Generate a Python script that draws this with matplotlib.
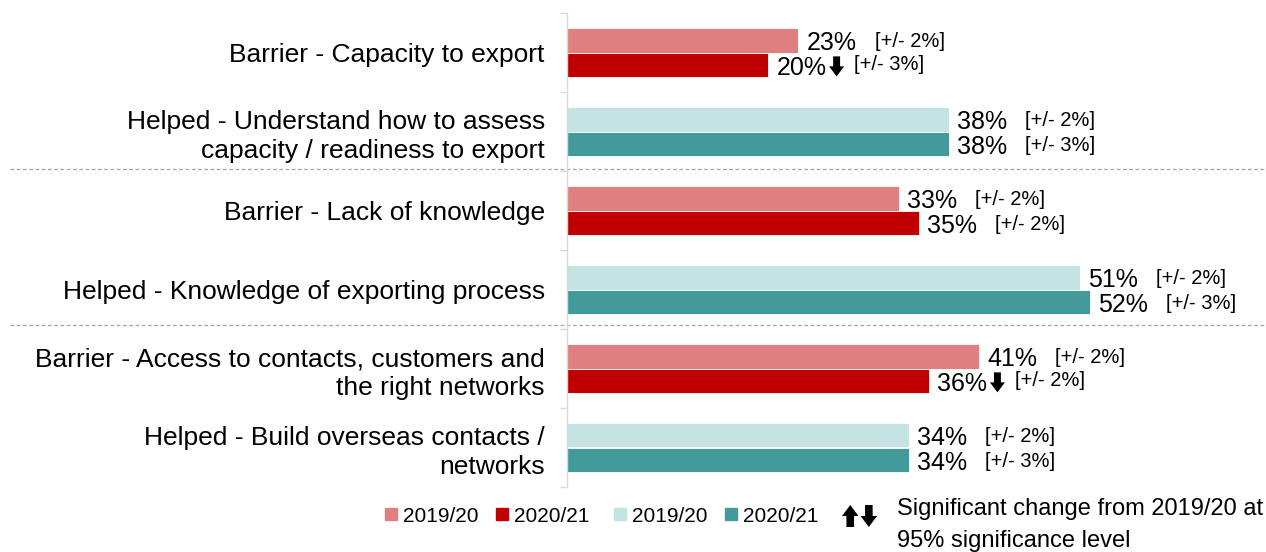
import matplotlib
matplotlib.use("Agg")
import matplotlib.pyplot as plt
import matplotlib.transforms as mtransforms
from matplotlib.lines import Line2D
from matplotlib.patches import Polygon
from matplotlib.offsetbox import DrawingArea, AnnotationBbox, HPacker
import numpy as np

plt.rcParams['font.family'] = ['Liberation Sans', 'DejaVu Sans']

# Survey items (barriers and the support that helped with them)
categories = [
    "Barrier - Capacity to export",
    "Helped - Understand how to assess\ncapacity / readiness to export",
    "Barrier - Lack of knowledge",
    "Helped - Knowledge of exporting process",
    "Barrier - Access to contacts, customers and\nthe right networks",
    "Helped - Build overseas contacts /\nnetworks",
]
kinds = ["Barrier", "Helped", "Barrier", "Helped", "Barrier", "Helped"]
pct_1920 = [23, 38, 33, 51, 41, 34]
pct_2021 = [20, 38, 35, 52, 36, 34]
moe_1920 = [2, 2, 2, 2, 2, 2]
moe_2021 = [3, 3, 2, 3, 2, 3]
change_2021 = ["down", None, None, None, "down", None]
years = ["2019/20", "2020/21"]

palette = {
    "Barrier": ("#DF7F7F", "#C00000"),
    "Helped": ("#C3E4E3", "#439A9A"),
}


def block_arrow(direction, scale=1.0):
    """Chunky black block arrow (sizes in points)."""
    w, hgt, shaft, head = 10.8 * scale, 14.4 * scale, 5.0 * scale, 7.2 * scale
    x0, x1 = (w - shaft) / 2, (w + shaft) / 2
    pts = [(x0, hgt), (x1, hgt), (x1, head), (w, head), (w / 2, 0),
           (0, head), (x0, head)]
    if direction == "up":
        pts = [(px, hgt - py) for px, py in pts]
    da = DrawingArea(w, hgt, 0, 0)
    da.add_artist(Polygon(pts, closed=True, facecolor="black",
                          edgecolor="none"))
    return da


fig = plt.figure(figsize=(12.66, 5.52), dpi=100)
ax = fig.add_axes([567 / 1266, 65 / 552, 1 - 567 / 1266, 474 / 552])

n = len(categories)
y = np.arange(n)
h = 0.316

for i in range(n):
    c_old, c_new = palette[kinds[i]]
    for j, (vals, moes, col, off) in enumerate(
        [(pct_1920, moe_1920, c_old, -h / 2), (pct_2021, moe_2021, c_new, h / 2)]
    ):
        v = vals[i]
        ax.barh(y[i] + off, v, height=h, color=col, edgecolor="white", linewidth=0.6)
        t = ax.annotate(f"{v}%", xy=(v, y[i] + off), xytext=(6, -2),
                        textcoords="offset points", ha="left", va="center",
                        fontsize=18, color="black")
        anchor, gap = t, 13
        if j == 1 and change_2021[i]:
            ab = AnnotationBbox(block_arrow(change_2021[i]), xy=(1, 0.5),
                                xycoords=t, xybox=(2, 1),
                                boxcoords="offset points",
                                box_alignment=(0, 0.5), frameon=False, pad=0)
            ax.add_artist(ab)
            anchor, gap = ab, 7
        ax.annotate(f"[+/- {moes[i]}%]", xy=(1, 0.5), xycoords=anchor,
                    xytext=(gap, 1), textcoords="offset points",
                    ha="left", va="center", fontsize=14.5, color="black")

ax.set_xlim(0, 69.55)
ax.set_ylim(n - 0.5, -0.5)
ax.set_yticks(y)
ax.set_yticklabels(categories, fontsize=19, linespacing=1.28)
ax.tick_params(axis="y", which="major", length=0, pad=16)
ax.set_yticks(np.arange(-0.5, n, 1.0), minor=True)
ax.tick_params(axis="y", which="minor", length=5, color="#D9D9D9", width=1)
ax.set_xticks([])
for s in ["top", "right", "bottom"]:
    ax.spines[s].set_visible(False)
ax.spines["left"].set_color("#D9D9D9")
ax.spines["left"].set_linewidth(1)

# Dashed separators between topic groups
trans = mtransforms.blended_transform_factory(fig.transFigure, ax.transData)
for yy in [1.47, 3.45]:
    ax.add_line(Line2D([10 / 1266, 1.0], [yy, yy], transform=trans,
                       color="#A6A6A6", linewidth=0.9, linestyle=(0, (3, 2)),
                       clip_on=False))


def sq(col):
    return Line2D([], [], marker="s", linestyle="none", markersize=8.5,
                  markerfacecolor=col, markeredgecolor=col)


# Legends for the two colour groups
leg_kw = dict(frameon=False, fontsize=15, handlelength=0.6, handletextpad=0.25,
              columnspacing=0.85, ncol=2, loc="center left", borderaxespad=0,
              borderpad=0)
fig.legend([sq(palette["Barrier"][0]), sq(palette["Barrier"][1])], years,
           bbox_to_anchor=(385 / 1266, 1 - 516 / 552), **leg_kw)
fig.legend([sq(palette["Helped"][0]), sq(palette["Helped"][1])], years,
           bbox_to_anchor=(614 / 1266, 1 - 516 / 552), **leg_kw)

# Key for the significance arrows
key = HPacker(children=[block_arrow("up", 1.1), block_arrow("down", 1.1)],
              pad=0, sep=1.5)
fig.add_artist(AnnotationBbox(key, xy=(842 / 1266, 1 - 516 / 552),
                              xycoords="figure fraction", box_alignment=(0, 0.5),
                              frameon=False, pad=0))
fig.text(897 / 1266, 1 - 498 / 552,
         "Significant change from 2019/20 at\n95% significance level",
         fontsize=17, ha="left", va="top", linespacing=1.6, color="black")

fig.savefig("out.png", dpi=100)
